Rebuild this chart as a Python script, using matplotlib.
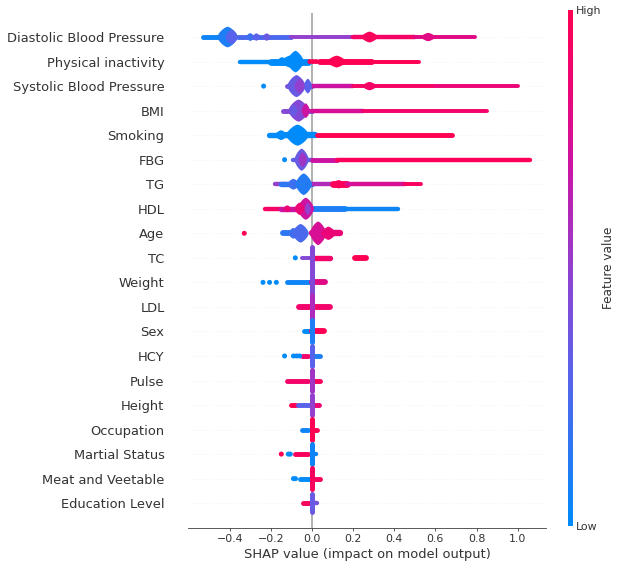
import numpy as np
import matplotlib
matplotlib.use("Agg")
import matplotlib.pyplot as plt
from matplotlib.colors import LinearSegmentedColormap
from matplotlib.patches import Polygon
from matplotlib.cm import ScalarMappable

# feature names, top to bottom
features = ["Diastolic Blood Pressure", "Physical inactivity", "Systolic Blood Pressure",
            "BMI", "Smoking", "FBG", "TG", "HDL", "Age", "TC", "Weight", "LDL", "Sex",
            "HCY", "Pulse", "Height", "Occupation", "Martial Status", "Meat and Veetable",
            "Education Level"]

# dense runs of points: (feature, shap from, shap to, spread in rows, feature value)
bands = [
    (0, -0.53, -0.45, 0.10, 0.05), (0, -0.36, -0.10, 0.10, 0.25), (0, -0.10, 0.20, 0.08, 0.5),
    (0, 0.20, 0.50, 0.09, 0.92), (0, 0.50, 0.79, 0.08, 0.8),
    (1, -0.35, -0.20, 0.09, 0.0), (1, -0.20, -0.02, 0.14, 0.0), (1, 0.04, 0.16, 0.12, 1.0),
    (1, 0.16, 0.29, 0.12, 1.0), (1, 0.29, 0.52, 0.08, 1.0),
    (2, -0.12, 0.0, 0.10, 0.4), (2, 0.0, 0.2, 0.09, 0.7), (2, 0.2, 0.6, 0.08, 0.92),
    (2, 0.6, 1.0, 0.08, 0.85),
    (3, -0.14, 0.0, 0.10, 0.45), (3, 0.0, 0.25, 0.09, 0.75), (3, 0.25, 0.85, 0.08, 0.9),
    (4, -0.21, -0.12, 0.11, 0.0), (4, -0.12, 0.013, 0.13, 0.0), (4, 0.024, 0.683, 0.10, 1.0),
    (5, -0.09, 0.0, 0.09, 0.3), (5, 0.0, 0.12, 0.10, 0.7), (5, 0.12, 1.06, 0.09, 0.97),
    (6, -0.18, -0.12, 0.09, 0.5), (6, -0.15, 0.0, 0.11, 0.15), (6, 0.0, 0.10, 0.09, 0.6),
    (6, 0.10, 0.17, 0.14, 0.97), (6, 0.17, 0.45, 0.09, 0.75), (6, 0.45, 0.53, 0.08, 0.95),
    (7, -0.23, -0.15, 0.09, 0.92), (7, -0.15, -0.08, 0.11, 0.7), (7, 0.0, 0.16, 0.12, 0.1),
    (7, 0.16, 0.42, 0.09, 0.05),
    (8, -0.14, -0.06, 0.12, 0.15), (8, 0.0, 0.135, 0.13, 0.85),
    (9, -0.05, -0.01, 0.08, 0.45), (9, 0.0, 0.09, 0.11, 0.9), (9, 0.208, 0.265, 0.12, 1.0),
    (10, -0.122, 0.0, 0.10, 0.05), (10, 0.0, 0.063, 0.12, 0.8),
    (11, -0.063, 0.086, 0.12, 0.9),
    (12, -0.04, 0.0, 0.10, 0.0), (12, 0.0, 0.057, 0.12, 1.0),
    (13, -0.05, -0.02, 0.10, 0.9), (13, 0.0, 0.04, 0.10, 0.1),
    (14, -0.122, -0.02, 0.10, 0.9), (14, 0.0, 0.04, 0.10, 0.95),
    (15, -0.104, -0.076, 0.10, 1.0), (15, -0.07, -0.01, 0.10, 0.3), (15, 0.0, 0.035, 0.10, 0.85),
    (16, -0.05, -0.02, 0.10, 0.05), (16, 0.0, 0.025, 0.10, 1.0),
    (17, -0.08, -0.02, 0.10, 0.95), (17, 0.0, 0.02, 0.09, 0.05),
    (18, -0.06, -0.01, 0.10, 0.0), (18, 0.0, 0.04, 0.10, 0.95),
    (19, -0.045, -0.01, 0.10, 0.95), (19, 0.0, 0.025, 0.09, 0.4),
]

# piles of points: (feature, shap centre, half width, spread in rows, feature value)
blobs = [
    (0, -0.41, 0.05, 0.42, 0.1), (0, -0.39, 0.03, 0.30, 0.3), (0, -0.30, 0.02, 0.16, 0.2),
    (0, -0.27, 0.02, 0.15, 0.3), (0, -0.22, 0.02, 0.15, 0.35), (0, 0.28, 0.04, 0.22, 0.95),
    (0, 0.565, 0.035, 0.17, 0.8),
    (1, -0.145, 0.025, 0.18, 0.0), (1, -0.10, 0.05, 0.26, 0.0), (1, -0.08, 0.04, 0.44, 0.0),
    (1, 0.12, 0.045, 0.24, 1.0),
    (2, -0.075, 0.045, 0.45, 0.35), (2, -0.02, 0.02, 0.30, 0.3), (2, -0.06, 0.025, 0.30, 0.5),
    (2, 0.28, 0.035, 0.17, 0.92),
    (3, -0.065, 0.05, 0.45, 0.45), (3, -0.09, 0.02, 0.25, 0.35), (3, -0.03, 0.02, 0.30, 0.7),
    (4, -0.15, 0.03, 0.20, 0.0), (4, -0.07, 0.055, 0.43, 0.0),
    (5, -0.05, 0.035, 0.45, 0.35), (5, -0.045, 0.02, 0.30, 0.55),
    (6, -0.09, 0.03, 0.22, 0.2), (6, -0.04, 0.04, 0.44, 0.12), (6, 0.13, 0.03, 0.17, 0.97),
    (7, -0.12, 0.02, 0.14, 0.85), (7, -0.03, 0.04, 0.45, 0.7), (7, -0.06, 0.025, 0.25, 0.85),
    (7, -0.02, 0.015, 0.25, 0.5),
    (8, -0.09, 0.025, 0.22, 0.2), (8, -0.055, 0.04, 0.38, 0.25), (8, 0.03, 0.04, 0.48, 0.75),
    (8, 0.08, 0.035, 0.27, 0.85),
]

# narrow stacks at zero: (feature, shap, spread in rows, feature value)
columns = [
    (9, 0.0, 0.45, 0.45), (10, 0.0, 0.45, 0.45), (11, 0.0, 0.48, 0.6), (12, 0.0, 0.45, 0.1),
    (13, 0.0, 0.42, 0.3), (14, 0.0, 0.42, 0.55), (15, 0.0, 0.42, 0.5), (16, 0.0, 0.42, 1.0),
    (17, 0.0, 0.42, 0.05), (18, 0.0, 0.42, 0.95), (19, 0.0, 0.38, 0.35),
]

# lone points: (feature, shap, feature value)
dots = [
    (1, -0.01, 1.0), (1, 0.005, 1.0), (1, 0.02, 1.0),
    (2, -0.235, 0.0), (5, -0.133, 0.0), (8, -0.329, 1.0), (9, -0.081, 0.0),
    (10, -0.238, 0.0), (10, -0.206, 0.0), (10, -0.173, 0.0),
    (13, -0.133, 0.0), (13, -0.09, 0.0), (13, -0.075, 0.05), (13, -0.06, 0.0),
    (17, -0.149, 1.0), (17, -0.115, 0.0), (17, -0.105, 0.0),
    (18, -0.09, 0.0), (18, -0.08, 0.0),
]

xticks = [-0.4, -0.2, 0.0, 0.2, 0.4, 0.6, 0.8, 1.0]

red_blue = LinearSegmentedColormap.from_list("red_blue", [
    (0.0, "#008bfa"), (0.3, "#5a62ea"), (0.5, "#9240cf"),
    (0.7, "#cc14a4"), (0.85, "#ec0576"), (1.0, "#ff0052")])

DPI = 72
fig = plt.figure(figsize=(621 / DPI, 568 / DPI), dpi=DPI)
ax = fig.add_axes([188.5 / 621, 1 - 527.7 / 568, 357.2 / 621, 515.2 / 568])
n = len(features)
ax.set_xlim(-0.6, 1.136)
ax.set_ylim(-1, n)
row_px = 515.2 / (n + 1)  # pixels per row, = points at 72 dpi


def rowpos(i):
    return n - 1 - i


# outline of a pile: between a diamond and an ellipse
t = np.linspace(0, 2 * np.pi, 60)
shape_x = np.sign(np.cos(t)) * np.abs(np.cos(t)) ** 1.4
shape_y = np.sign(np.sin(t)) * np.abs(np.sin(t)) ** 1.4

ax.axvline(0, color="#999999", zorder=-1)
for i in range(n):
    ax.axhline(rowpos(i), color="#cccccc", lw=0.5, dashes=(1, 5), zorder=-1)

for f, x0, x1, spread, v in bands:
    ax.plot([x0, x1], [rowpos(f), rowpos(f)], color=red_blue(v),
            lw=2 * spread * row_px, solid_capstyle="round", zorder=2)

for f, xc, hw, spread, v in blobs:
    pts = np.column_stack([xc + hw * shape_x, rowpos(f) + spread * shape_y])
    ax.add_patch(Polygon(pts, closed=True, color=red_blue(v), lw=0, zorder=3))

for f, x, spread, v in columns:
    ax.plot([x, x], [rowpos(f) - spread, rowpos(f) + spread], color=red_blue(v),
            lw=5, solid_capstyle="round", zorder=4)

ax.scatter([d[1] for d in dots], [rowpos(d[0]) for d in dots],
           c=[red_blue(d[2]) for d in dots], s=25, lw=0, zorder=4)

axis_color = "#333333"
for s in ["left", "right", "top"]:
    ax.spines[s].set_visible(False)
ax.spines["bottom"].set_color(axis_color)
ax.set_yticks([rowpos(i) for i in range(n)])
ax.set_yticklabels(features, fontsize=13)
ax.set_xticks(xticks)
ax.tick_params("y", length=0, labelcolor=axis_color, pad=24)
ax.tick_params("x", labelsize=11, color=axis_color, labelcolor=axis_color, length=3)
ax.set_xlabel("SHAP value (impact on model output)", fontsize=13, color=axis_color)

cax = fig.add_axes([567.5 / 621, 1 - 526 / 568, 5 / 621, 516 / 568])
m = ScalarMappable(cmap=red_blue)
m.set_array([0, 1])
cb = fig.colorbar(m, cax=cax, ticks=[0, 1])
cb.set_ticklabels(["Low", "High"])
cb.ax.tick_params(labelsize=11, length=0, labelcolor=axis_color)
cb.set_label("Feature value", size=12, labelpad=0, color=axis_color)
cb.outline.set_visible(False)

fig.savefig("out.png", dpi=DPI)
